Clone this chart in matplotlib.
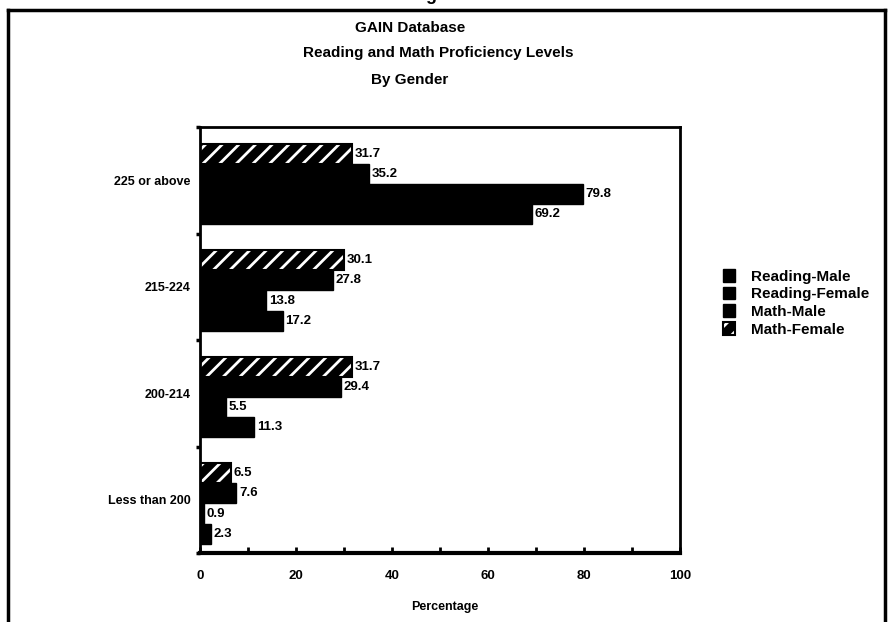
import matplotlib
matplotlib.use("Agg")
import matplotlib.pyplot as plt
from matplotlib.patches import Patch
from matplotlib.lines import Line2D
import numpy as np

plt.rcParams['font.family'] = ['Liberation Sans Narrow', 'Liberation Sans', 'DejaVu Sans']
plt.rcParams['font.weight'] = 'bold'
plt.rcParams['hatch.linewidth'] = 2.0

categories = ["225 or above", "215-224", "200-214", "Less than 200"]
series_names = ["Reading-Male", "Reading-Female", "Math-Male", "Math-Female"]
reading_male = [69.2, 17.2, 11.3, 2.3]
reading_female = [79.8, 13.8, 5.5, 0.9]
math_male = [35.2, 27.8, 29.4, 7.6]
math_female = [31.7, 30.1, 31.7, 6.5]
xticks = [0, 20, 40, 60, 80, 100]

fig = plt.figure(figsize=(8.89, 6.22), dpi=100)
ax = fig.add_axes([200/889, 1-553/622, 480/889, 426/622])

y = np.arange(len(categories))
h = 0.19
shift = 0.035
# top-to-bottom within group: Math-Female, Math-Male, Reading-Female, Reading-Male
offsets = {"Math-Female": -1.5*h, "Math-Male": -0.5*h, "Reading-Female": 0.5*h, "Reading-Male": 1.5*h}
data = {"Reading-Male": reading_male, "Reading-Female": reading_female,
        "Math-Male": math_male, "Math-Female": math_female}

for name in series_names:
    vals = data[name]
    pos = y + offsets[name] + shift
    if name == "Math-Female":
        ax.barh(pos, vals, height=h, color='black', edgecolor='white', hatch='//', linewidth=0)
        ax.barh(pos, vals, height=h, fill=False, edgecolor='black', linewidth=1.5)
    else:
        ax.barh(pos, vals, height=h, color='black', edgecolor='black', linewidth=1)
    for p, v in zip(pos, vals):
        ax.text(v + 0.5, p, f"{v:.1f}", va='center', ha='left', fontsize=9.5, fontweight='bold',
                bbox=dict(facecolor='white', edgecolor='none', pad=0.3))

ax.set_xlim(0, 100)
ax.set_ylim(len(categories) - 0.5, -0.5)
ax.set_xticks(xticks)
ax.set_xticks([10, 30, 50, 70, 90], minor=True)
ax.set_xticklabels([str(t) for t in xticks], fontsize=9.5, fontweight='bold')
ax.set_yticks(y)
ax.set_yticklabels(categories, fontsize=9, fontweight='bold')
ax.set_yticks(np.arange(-0.5, len(categories), 1.0), minor=True)
ax.tick_params(axis='x', which='both', direction='in', length=4, width=2, pad=12)
ax.tick_params(axis='y', which='major', length=0, pad=7)
ax.tick_params(axis='y', which='minor', direction='out', length=3, width=2.5)
for s in ax.spines.values():
    s.set_linewidth(2)
ax.spines['bottom'].set_linewidth(3)

fig.text(0.5, 1 - 607/622, "Percentage", ha='center', va='center', fontsize=9, fontweight='bold')

fig.text(410/889, 1 - 28/622, "GAIN Database", ha='center', va='center', fontsize=11, fontweight='bold')
fig.text(438/889, 1 - 53/622, "Reading and Math Proficiency Levels", ha='center', va='center', fontsize=11, fontweight='bold')
fig.text(410/889, 1 - 80/622, "By Gender", ha='center', va='center', fontsize=11, fontweight='bold')
fig.text(445/889, 1 - 4/622, "Figure 2", ha='center', va='bottom', fontsize=13, fontweight='bold')

solid = lambda: Patch(facecolor='black', edgecolor='black')
hatched = (Patch(facecolor='black', edgecolor='white', hatch='//', linewidth=0),
           Patch(facecolor='none', edgecolor='black', linewidth=1.5))
handles = [solid(), solid(), solid(), hatched]
fig.legend(handles=handles, labels=series_names, loc='upper left',
           bbox_to_anchor=(723/889, 1 - 269/622),
           frameon=False, fontsize=11, handlelength=0.8, handleheight=0.9,
           handletextpad=1.0, labelspacing=0.2, borderpad=0, borderaxespad=0)

# page border
fig.add_artist(Line2D([8/889, 8/889], [0, 1 - 10/622], transform=fig.transFigure, color='black', lw=2.5))
fig.add_artist(Line2D([8/889, 885/889], [1 - 10/622, 1 - 10/622], transform=fig.transFigure, color='black', lw=2.5))
fig.add_artist(Line2D([885/889, 885/889], [0, 1 - 10/622], transform=fig.transFigure, color='black', lw=2.5))

fig.savefig("out.png", dpi=100)
